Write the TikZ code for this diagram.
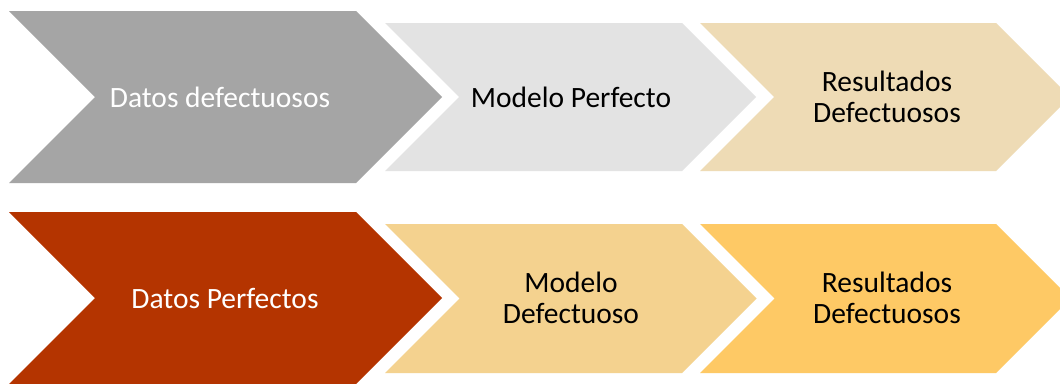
\documentclass[tikz,border=0pt]{standalone}
\usepackage{fontspec}
\setmainfont{Carlito}
\definecolor{cgrey}{HTML}{A5A5A5}
\definecolor{clight}{HTML}{E3E3E3}
\definecolor{ctan}{HTML}{EEDBB5}
\definecolor{cred}{HTML}{B43400}
\definecolor{corange}{HTML}{F4D28F}
\definecolor{cyellow}{HTML}{FEC965}
\tikzset{
  lbl/.style={font=\fontsize{29.5}{31}\selectfont, align=center, inner sep=0pt},
  wlbl/.style={lbl, text=white},
  blbl/.style={lbl, text=black}
}
\newcommand{\chev}[5]{% color, xleft, xright(top corner), ytop, ybottom
  \pgfmathsetmacro{\hh}{(#5-#4)/2}
  \pgfmathsetmacro{\ym}{(#5+#4)/2}
  \fill[#1] (#2,#4) -- (#3,#4) -- (#3+\hh,\ym) -- (#3,#5) -- (#2,#5) -- (#2+\hh,\ym) -- cycle;
}
\begin{document}
\begin{tikzpicture}[x=1pt,y=-1pt]
\useasboundingbox (0,0) rectangle (1060,383);
\fill[white] (0,0) rectangle (1060,383);
\clip (0,0) rectangle (1060,383);
% top row
\chev{cgrey}{9}{356}{11}{183}
\chev{clight}{385}{682}{23}{171}
\chev{ctan}{700}{996}{23}{171}
% bottom row
\chev{cred}{9}{356}{212}{384}
\chev{corange}{385}{682}{224}{373}
\chev{cyellow}{700}{996}{224}{373}
% labels
\node[wlbl] (a1) at (220,97) {Datos defectuosos};
\node[blbl] (a2) at (571,97) {Modelo Perfecto};
\node[blbl] (a3) at (887,97) {Resultados\\Defectuosos};
\node[wlbl] (b1) at (225,298) {Datos Perfectos};
\node[blbl] (b2) at (571,298) {Modelo\\Defectuoso};
\node[blbl] (b3) at (887,298) {Resultados\\Defectuosos};
\end{tikzpicture}
\end{document}
